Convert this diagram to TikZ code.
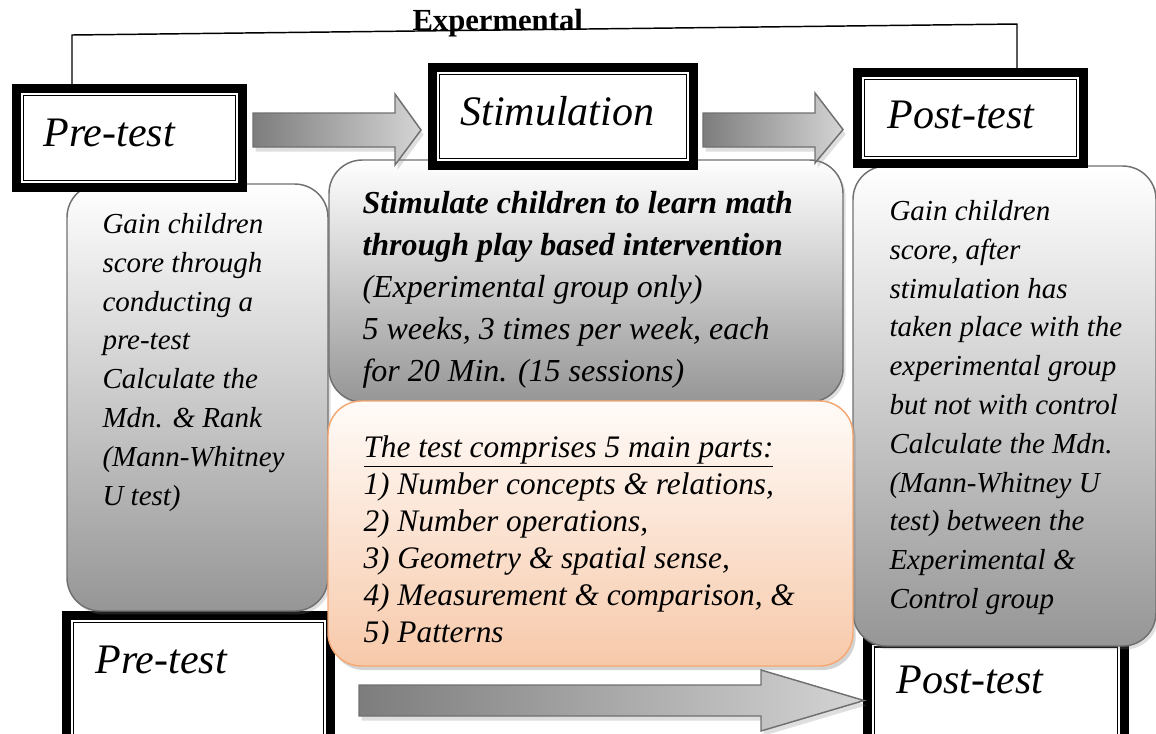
\documentclass[tikz,border=0pt]{standalone}
\usepackage{fontspec}
\setmainfont{Liberation Serif}[ItalicFont={Liberation Serif Italic}, BoldFont={Liberation Serif Bold}, BoldItalicFont={Liberation Serif Bold Italic}]
\usetikzlibrary{fit,shadows}

\definecolor{boxline}{RGB}{112,112,112}
\definecolor{boxgray}{RGB}{150,150,150}
\definecolor{peachtop}{RGB}{255,251,248}
\definecolor{peachbot}{RGB}{247,201,170}
\definecolor{peachline}{RGB}{245,168,115}
\definecolor{arrowdark}{RGB}{125,125,125}
\definecolor{arrowlite}{RGB}{212,212,212}

\tikzset{every picture/.style={line width=0.75pt}}
\tikzset{
	titlebox/.style={draw, line width=6.75pt, fill=white, inner sep=0pt, outer sep=0pt},
	titleinner/.style={draw, line width=1pt},
	titletext/.style={inner sep=0pt, anchor=base west, font=\fontsize{31.5}{36}\selectfont\itshape},
	graybox/.style={draw=boxline, line width=1.1pt, rounded corners=25pt, top color=white, bottom color=boxgray, drop shadow={opacity=0.25, shadow xshift=2pt, shadow yshift=-2.5pt}},
	peachbox/.style={draw=peachline, line width=1.1pt, rounded corners=25pt, top color=peachtop, bottom color=peachbot, drop shadow={opacity=0.35, shadow xshift=2pt, shadow yshift=-3pt}},
	blockarrow/.style={draw=boxline, line width=1.1pt, left color=arrowdark, right color=arrowlite, drop shadow={opacity=0.25, shadow xshift=2pt, shadow yshift=-3.5pt}},
	sidetext/.style={inner sep=0pt, anchor=north west, align=left, font=\fontsize{21.75}{29.1}\selectfont\itshape},
	midtext/.style={inner sep=0pt, anchor=north west, align=left, font=\fontsize{24}{31.5}\selectfont\itshape},
	listtext/.style={inner sep=0pt, anchor=north west, align=left, font=\fontsize{23.5}{27.8}\selectfont\itshape}
}

\begin{document}
\begin{tikzpicture}[x=0.75pt,y=0.75pt,yscale=-1]
	\useasboundingbox (0,0) rectangle (1156,733);
	
	% lower title boxes (partly hidden by the boxes above them)
	\node[titlebox, fit={(66.5,615.5) (330.5,750)}] (prebot) {};
	\node[titlebox, fit={(867.5,640) (1124.5,750)}] (postbot) {};
	\foreach \b in {prebot,postbot}
		\draw[titleinner] ([shift={(7,7)}]\b.north west) rectangle ([shift={(-7,-7)}]\b.south east);
	
	% description boxes
	\draw[graybox] (67,184) rectangle (328,611);
	\draw[graybox] (329,160) rectangle (843,402);
	\draw[graybox] (853,166) rectangle (1156,646);
	
	% upper title boxes
	\node[titlebox, fit={(16.5,88.5) (242.5,187.5)}] (pretop) {};
	\node[titlebox, fit={(432.5,67.5) (693.5,165.5)}] (stim) {};
	\node[titlebox, fit={(857.5,72.5) (1083.5,163.5)}] (posttop) {};
	\foreach \b in {pretop,stim,posttop}
		\draw[titleinner] ([shift={(7,7)}]\b.north west) rectangle ([shift={(-7,-7)}]\b.south east);
	
	%Right Arrow
	\draw[blockarrow] (253,113) -- (395,113) -- (395,94) -- (421,130) -- (395,165) -- (395,147) -- (253,147) -- cycle;
	%Right Arrow
	\draw[blockarrow] (703,113) -- (815,113) -- (815,93) -- (843,129.5) -- (815,163) -- (815,147) -- (703,147) -- cycle;
	
	% test parts
	\draw[peachbox] (328,401) rectangle (853,666);
	
	%Right Arrow
	\draw[blockarrow] (359,685) -- (761,685) -- (761,670) -- (864,700.5) -- (761,731) -- (761,716) -- (359,716) -- cycle;
	
	% group line
	\coordinate (turnL) at (72,35);
	\coordinate (turnR) at (1017,24);
	\draw[line width=1.1pt] (pretop.north -| turnL) -- (turnL) -- (turnR) -- (posttop.north -| turnR);
	\node[inner sep=0pt, anchor=base west, font=\fontsize{23}{26}\selectfont\bfseries] (grp) at (412,30) {Expermental};
	
	% Text Node
	\node[titletext] (pretoplbl) at (43,146) {Pre-test};
	\node[titletext] (stimlbl) at (460,125) {Stimulation};
	\node[titletext] (posttoplbl) at (887,128) {Post-test};
	\node[titletext] (prebotlbl) at (95,673) {Pre-test};
	\node[titletext] (postbotlbl) at (896,693) {Post-test};
	
	% Text Node
	\node[sidetext] (pretxt) at (102,205.8) {\strut Gain children\\score through\\conducting a\\pre-test\\Calculate the\\Mdn. \& Rank\\(Mann-Whitney\\U test)};
	% Text Node
	\node[midtext] (stimtxt) at (362,183.6) {\strut\bfseries Stimulate children to learn math\\\bfseries through play based intervention\\(Experimental group only)\\5 weeks, 3 times per week, each\\for 20 Min. (15 sessions)};
	% Text Node
	\node[sidetext] (posttxt) at (889,192.9) {\strut Gain children\\score, after\\stimulation has\\taken place with the\\experimental group\\but not with control\\Calculate the Mdn.\\(Mann-Whitney U\\test) between the\\Experimental \&\\Control group};
	% Text Node (last line runs into the box edge)
	\begin{scope}
		\clip (328,401) rectangle (853,643);
		\node[listtext] (partstxt) at (363,431.1) {\strut\underline{The test comprises 5 main parts:}\\1) Number concepts \& relations,\\2) Number operations,\\3) Geometry \& spatial sense,\\4) Measurement \& comparison, \&\\5) Patterns};
	\end{scope}
\end{tikzpicture}
\end{document}
